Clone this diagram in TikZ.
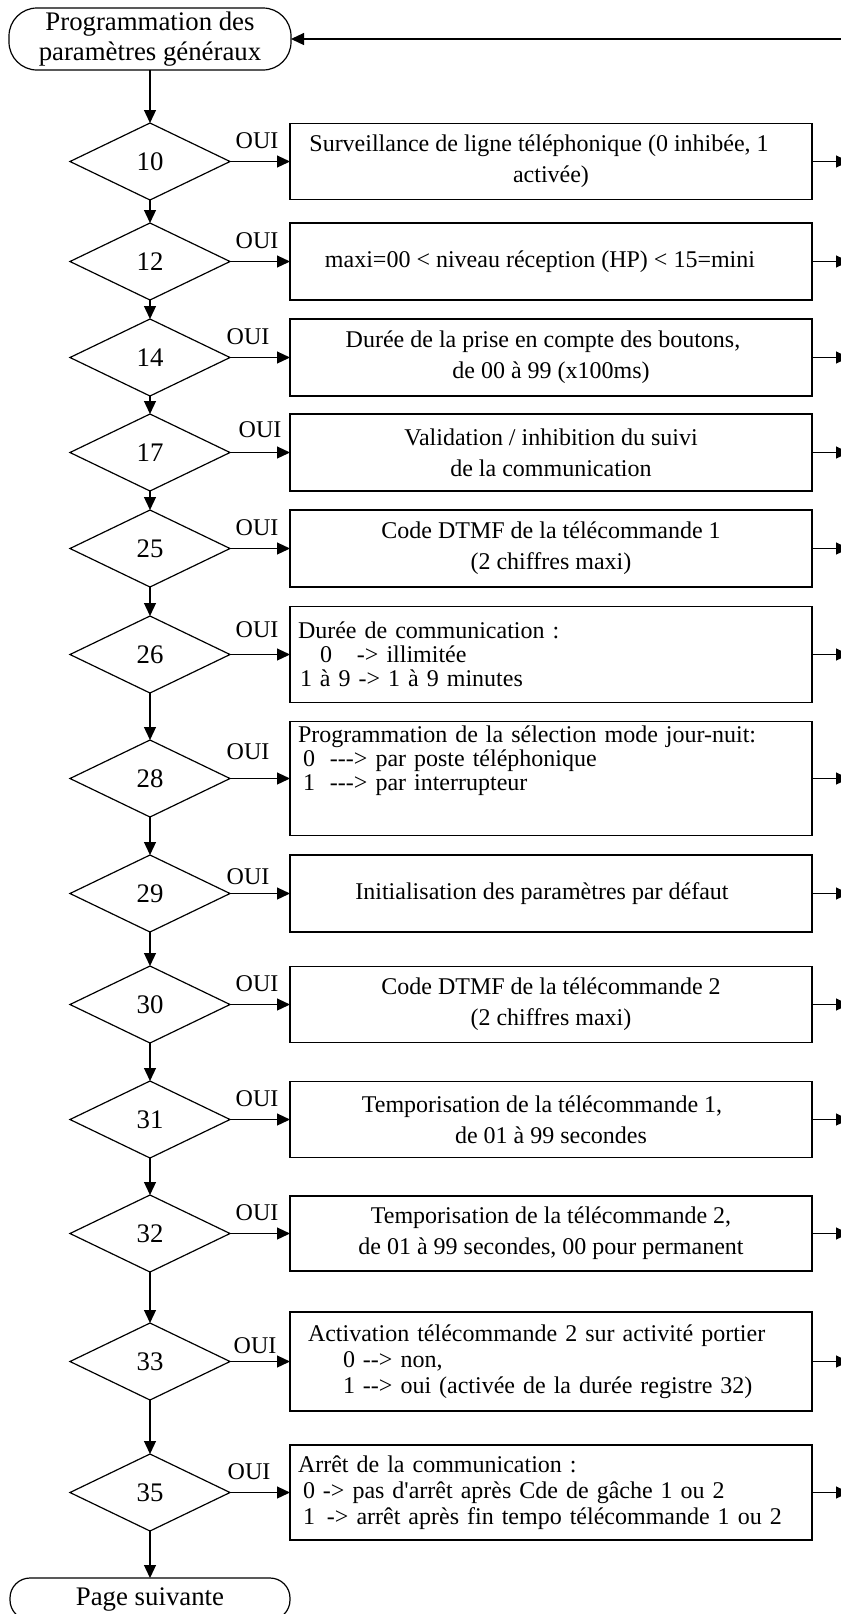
\documentclass[tikz,border=0pt]{standalone}
\usepackage{fontspec}
\setmainfont{Liberation Serif}
\usetikzlibrary{positioning,shapes.geometric,arrows.meta}
\newcommand{\tiret}{\mbox{-}}

\begin{document}
\begin{tikzpicture}[
    font=\fontsize{12}{15.5}\selectfont,
    flow/.style={draw, line width=0.6pt, -{Triangle[length=6.5pt,width=6pt]}},
    terminal/.style={draw, line width=0.6pt, outer sep=0pt, rounded corners=14pt, minimum width=141pt, minimum height=31pt, align=center, inner sep=0pt, font=\fontsize{13.4}{15}\selectfont},
    test/.style={draw, diamond, line width=0.6pt, outer sep=0pt, minimum width=80pt, minimum height=38.5pt, inner sep=0pt, font=\fontsize{13.4}{15}\selectfont},
    action/.style={draw, line width=0.6pt, outer sep=0pt, minimum width=261pt, minimum height=38.5pt, align=center, inner sep=0pt},
    listing/.style={action, align=left, text width=253pt, inner xsep=4pt, font=\fontsize{12}{12}\selectfont},
    oui/.style={above=6pt, xshift=-1.5pt, inner sep=0pt, font=\fontsize{12}{12}\selectfont}]

\useasboundingbox (0,0) rectangle (420.5pt,-807pt);

% start / end
\node[terminal] (start) at (75pt,-19.5pt) {Programmation des\\paramètres généraux};
\coordinate (back) at (424pt,-19.5pt);

% register tests
\node[test, below=26.5pt of start] (d10) {10};
\node[test, below=11.5pt of d10] (d12) {12};
\node[test, below=9.5pt of d12] (d14) {14};
\node[test, below=9pt of d14] (d17) {17};
\node[test, below=9.5pt of d17] (d25) {25};
\node[test, below=14.5pt of d25] (d26) {26};
\node[test, below=23.5pt of d26] (d28) {28};
\node[test, below=19pt of d28] (d29) {29};
\node[test, below=17pt of d29] (d30) {30};
\node[test, below=19pt of d30] (d31) {31};
\node[test, below=18.5pt of d31] (d32) {32};
\node[test, below=25.5pt of d32] (d33) {33};
\node[test, below=27pt of d33] (d35) {35};
\node[terminal, below=23.5pt of d35, minimum width=140pt, minimum height=21pt, rounded corners=10pt] (next) {Page suivante};

% parameter boxes
\node[action, right=30pt of d10, minimum height=38pt] (b10) {Surveillance de ligne téléphonique (0 inhibée, 1\hspace*{12pt}\\activée)};
\node[action, right=30pt of d12] (b12) {maxi=00 < niveau réception (HP) < 15=mini\hspace*{11pt}};
\node[action, right=30pt of d14] (b14) {Durée de la prise en compte des boutons,\hspace*{8pt}\\de 00 à 99 (x100ms)};
\node[action, right=30pt of d17] (b17) {Validation / inhibition du suivi\\de la communication};
\node[action, right=30pt of d25] (b25) {Code DTMF de la télécommande 1\\(2 chiffres maxi)};
\node[listing, right=30pt of d26, minimum height=48pt] (b26) {Durée de communication :\\
    \hspace*{11pt}0\hspace{12.5pt}\tiret> illimitée\\
    \hspace*{1pt}1 à 9 \tiret> 1 à 9 minutes};
\node[listing, right=30pt of d28, minimum height=57pt] (b28) {Programmation de la sélection mode jour-nuit:\\
    \hspace*{2.5pt}0\hspace{7.5pt}\tiret\tiret\tiret> par poste téléphonique\\
    \hspace*{2.5pt}1\hspace{7.5pt}\tiret\tiret\tiret> par interrupteur\\[8pt]\mbox{}};
\node[action, right=30pt of d29] (b29) {Initialisation des paramètres par défaut\hspace*{9pt}};
\node[action, right=30pt of d30, minimum height=38pt] (b30) {Code DTMF de la télécommande 2\\(2 chiffres maxi)};
\node[action, right=30pt of d31, minimum height=38pt] (b31) {Temporisation de la télécommande 1,\hspace*{9pt}\\de 01 à 99 secondes};
\node[action, right=30pt of d32, minimum height=37.5pt] (b32) {Temporisation de la télécommande 2,\\de 01 à 99 secondes, 00 pour permanent};
\node[listing, right=30pt of d33, minimum height=49.5pt, font=\fontsize{12}{13}\selectfont] (b33) {\hspace*{5pt}Activation télécommande 2 sur activité portier\\
    \hspace*{22.5pt}0 \tiret\tiret> non,\\
    \hspace*{22.5pt}1 \tiret\tiret> oui (activée de la durée registre 32)};
\node[listing, right=30pt of d35, minimum height=47.5pt, font=\fontsize{12}{13}\selectfont] (b35) {Arrêt de la communication :\\
    \hspace*{2.5pt}0 \tiret> pas d\textquotesingle arrêt après Cde de gâche 1 ou 2\\
    \hspace*{2.5pt}1\hspace{6pt}\tiret> arrêt après fin tempo télécommande 1 ou 2};

% main chain
\foreach \a/\b in {start/d10, d10/d12, d12/d14, d14/d17, d17/d25, d25/d26, d26/d28,
    d28/d29, d29/d30, d30/d31, d31/d32, d32/d33, d33/d35, d35/next}
    \draw[flow] (\a) -- (\b);

% OUI branches
\draw[flow] (d10) -- node[oui] {OUI} (b10);
\draw[flow] (d12) -- node[oui] {OUI} (b12);
\draw[flow] (d14) -- node[oui, xshift=-4.5pt] {OUI} (b14);
\draw[flow] (d17) -- node[oui, xshift=1.5pt, yshift=1pt] {OUI} (b17);
\draw[flow] (d25) -- node[oui] {OUI} (b25);
\draw[flow] (d26) -- node[oui, yshift=2pt] {OUI} (b26);
\draw[flow] (d28) -- node[oui, xshift=-4.5pt, yshift=3pt] {OUI} (b28);
\draw[flow] (d29) -- node[oui, xshift=-4.5pt, yshift=-2pt] {OUI} (b29);
\draw[flow] (d30) -- node[oui] {OUI} (b30);
\draw[flow] (d31) -- node[oui] {OUI} (b31);
\draw[flow] (d32) -- node[oui] {OUI} (b32);
\draw[flow] (d33) -- node[oui, xshift=-1pt, yshift=-2.5pt] {OUI} (b33);
\draw[flow] (d35) -- node[oui, xshift=-4pt] {OUI} (b35);

% outputs to the right and return
\foreach \n in {10,12,14,17,25,26,28,29,30,31,32,33,35}
    \draw[flow] (b\n.east) -- ++(18.5pt,0);
\draw[flow] (back) -- (start);

\end{tikzpicture}
\end{document}
